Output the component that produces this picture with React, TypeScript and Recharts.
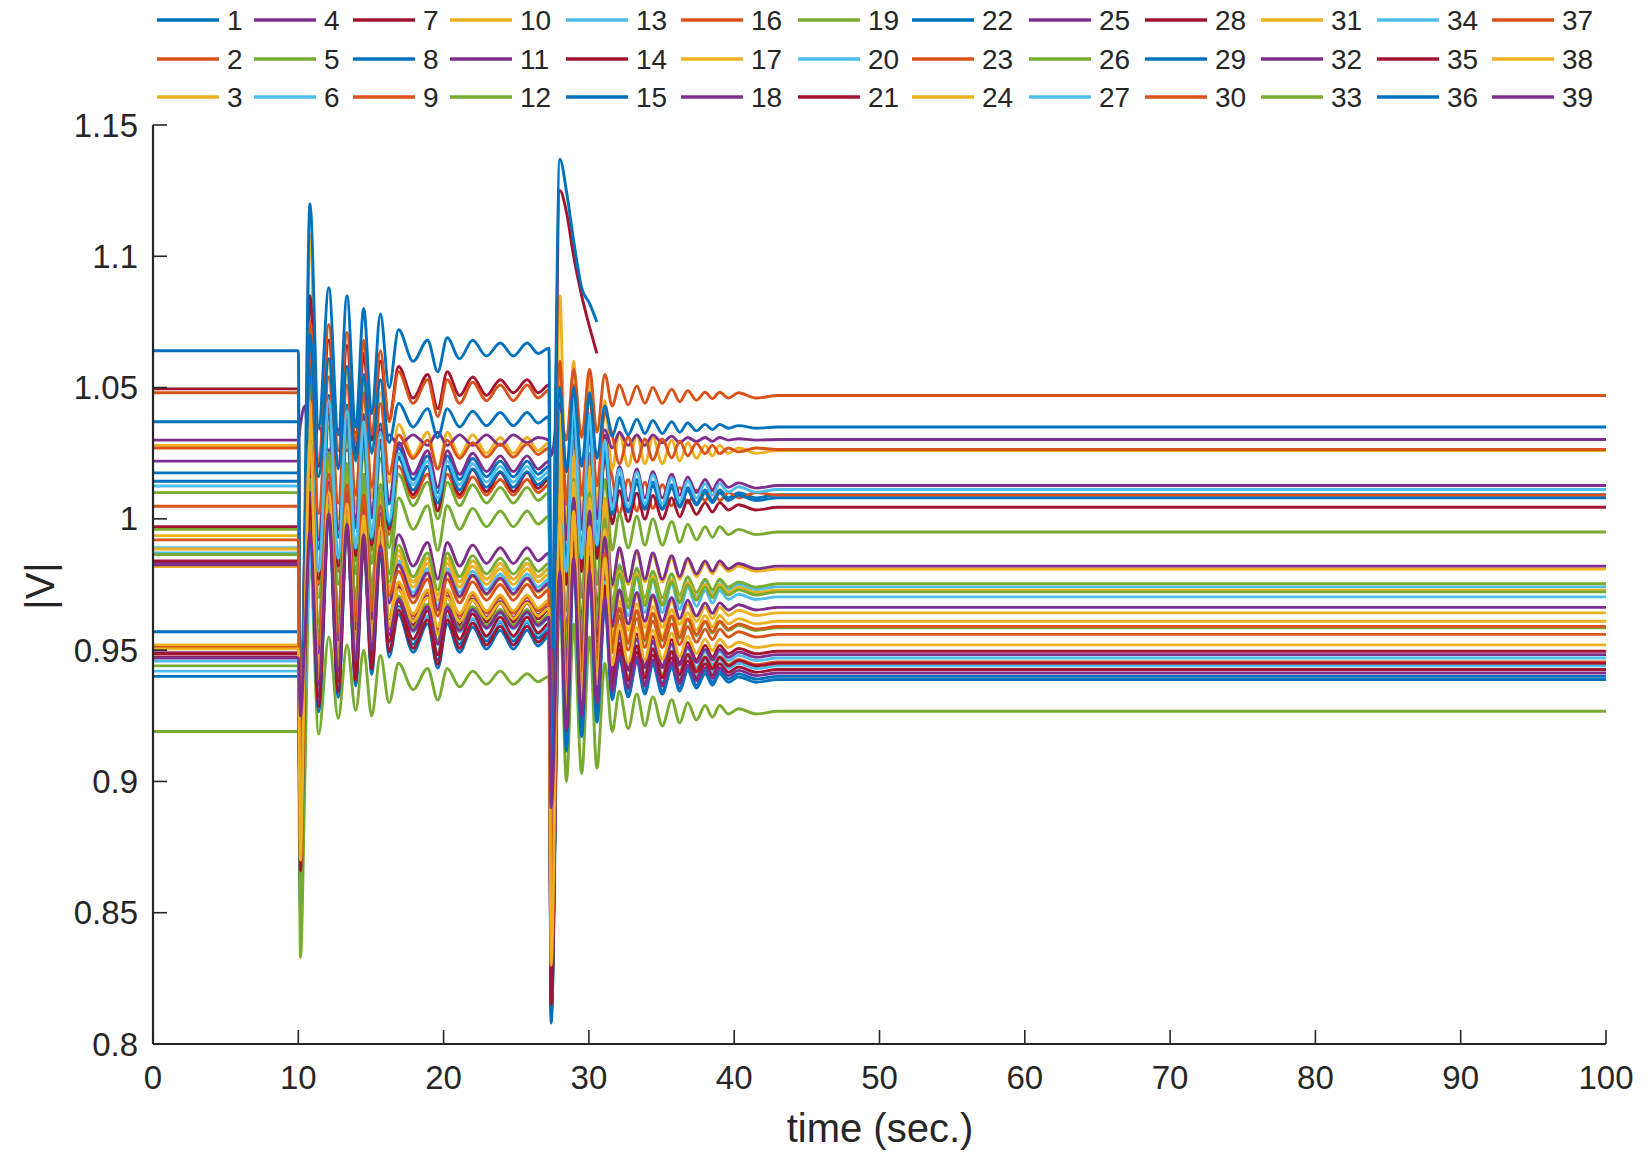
import React from "react";
import { LineChart, Line, XAxis, YAxis } from "recharts";

// sample times (s): pre-fault, first disturbance at 10 s, second at 27.3 s, settling to 47 s
const TIME = [
  0, 10, 10.15, 10.45, 10.8,
  11.4, 12.1, 12.75, 13.35, 13.95, 14.5, 15.05, 15.65, 16.25,
  16.9, 17.9, 18.9, 19.6, 20.25, 21.1, 22.0, 22.95, 23.9, 24.8, 25.75, 26.5, 27.25,
  27.4, 28.0,
  28.45, 28.95, 29.5, 30.05, 30.55, 31.1,
  31.6, 32.1, 32.7, 33.3, 33.85, 34.4, 35.05, 35.7, 36.25, 36.8, 37.4, 38.0, 38.5, 39.0,
  39.6, 40.3, 41.5, 43.0, 45.0, 47.0, 100,
];

// bus voltage magnitudes |V| (p.u.)
const bus1 = [1.0175,1.0175,0.87,0.98,1.06, 0.9885,1.047,0.993,1.0434,0.9966,1.0398,1.0002,1.0362,1.0056, 1.027,1.015,1.024,1.010,1.024,1.015,1.023,1.016,1.022,1.016,1.022,1.017,1.020, 0.85,1.02, 0.9835,1.042,0.988,1.0375,0.9925,1.0285, 1.002,1.016,1.003,1.015,1.004,1.014,1.004,1.013,1.005,1.012,1.006,1.011,1.007,1.011, 1.008,1.010,1.008,1.0092,1.0092,1.0092,1.0092];
const bus2 = [1.0048,1.0048,0.90,0.97,1.04, 0.975,1.040,0.980,1.036,0.984,1.032,0.988,1.028,0.994, 1.020,1.008,1.017,1.003,1.017,1.008,1.016,1.009,1.015,1.009,1.015,1.010,1.013, 0.87,1.00, 0.975,1.040,0.980,1.035,0.985,1.025, 1.016,1.002,1.015,1.003,1.014,1.004,1.013,1.005,1.012,1.006,1.011,1.007,1.011,1.007, 1.010,1.008,1.010,1.009,1.009,1.009,1.009];
const bus3 = [1.028,1.028,0.87,0.99,1.108, 0.995,1.060,1.000,1.056,1.004,1.052,1.008,1.048,1.014, 1.036,1.024,1.033,1.019,1.033,1.024,1.032,1.025,1.031,1.025,1.031,1.026,1.029, 0.83,1.085, 0.995,1.060,1.000,1.055,1.005,1.045, 1.019,1.033,1.020,1.032,1.021,1.031,1.021,1.030,1.022,1.029,1.023,1.028,1.024,1.028, 1.025,1.027,1.025,1.026,1.026,1.026,1.026];
const bus4 = [1.030,1.030,1.036,1.043,1.020, 1.035,1.026,1.034,1.026,1.033,1.027,1.033,1.027,1.032, 1.028,1.032,1.028,1.033,1.028,1.032,1.028,1.032,1.028,1.032,1.029,1.031,1.030, 1.024,1.044, 1.018,1.036,1.022,1.035,1.024,1.034, 1.027,1.033,1.028,1.032,1.028,1.032,1.029,1.0315,1.029,1.031,1.0295,1.031,1.0295,1.031, 1.030,1.0305,1.030,1.0302,1.0302,1.0302,1.0302];
const bus5 = [1.010,1.010,0.91,0.97,1.03, 0.970,1.035,0.975,1.031,0.979,1.027,0.983,1.023,0.989, 1.017,1.005,1.014,1.000,1.014,1.005,1.013,1.006,1.012,1.006,1.012,1.007,1.010, 0.87,0.99, 0.965,1.030,0.970,1.025,0.975,1.015, 0.988,1.002,0.989,1.001,0.990,1.000,0.990,0.999,0.991,0.998,0.992,0.997,0.993,0.997, 0.994,0.996,0.994,0.995,0.995,0.995,0.995];
const bus6 = [0.989,0.989,0.915,0.95,1.0, 0.955,1.020,0.960,1.016,0.964,1.012,0.968,1.008,0.974, 0.988,0.976,0.985,0.971,0.985,0.976,0.984,0.977,0.983,0.977,0.983,0.978,0.981, 0.88,0.99, 0.943,1.021,0.949,1.015,0.955,1.003, 0.9657,0.9825,0.9669,0.9813,0.9681,0.9801,0.9681,0.9789,0.9693,0.9777,0.9705,0.9765,0.9717,0.9765, 0.9731,0.9751,0.9731,0.9741,0.9741,0.9741,0.9741];
const bus7 = [1.0495,1.0495,0.88,0.98,1.085, 1.02,1.068,1.02,1.066,1.025,1.063,1.03,1.06,1.038, 1.058,1.046,1.055,1.042,1.056,1.047,1.054,1.047,1.053,1.048,1.053,1.048,1.051, 0.93,1.125, 1.117,1.100,1.085,1.073,1.063,null, null,null,null,null,null,null,null,null,null,null,null,null,null,null, null,null,null,null,null,null,null];
const bus8 = [0.957,0.957,0.855,0.94,1.0, 0.9295,1.001,0.935,0.9966,0.9394,0.9922,0.9438,0.9878,0.9504, 0.9666,0.9522,0.963,0.9462,0.963,0.9522,0.9618,0.9534,0.9606,0.9534,0.9606,0.9546,0.9582, 0.808,0.98, 0.9135,0.985,0.919,0.9795,0.9245,0.9685, 0.9323,0.9477,0.9334,0.9466,0.9345,0.9455,0.9345,0.9444,0.9356,0.9433,0.9367,0.9422,0.9378,0.9422, 0.939,0.941,0.939,0.940,0.940,0.940,0.940];
const bus9 = [0.9838,0.9838,0.895,0.955,1.02, 0.944,1.009,0.949,1.005,0.953,1.001,0.957,0.997,0.963, 0.975,0.963,0.972,0.958,0.972,0.963,0.971,0.964,0.970,0.964,0.970,0.965,0.968, 0.85,0.995, 0.935,1.000,0.940,0.995,0.945,0.985, 0.949,0.963,0.950,0.962,0.951,0.961,0.951,0.960,0.952,0.959,0.953,0.958,0.954,0.958, 0.955,0.957,0.955,0.956,0.956,0.956,0.956];
const bus10 = [0.9936,0.9936,0.88,0.97,1.05, 0.9515,1.023,0.957,1.0186,0.9614,1.0142,0.9658,1.0098,0.9724, 0.988,0.976,0.985,0.971,0.985,0.976,0.984,0.977,0.983,0.977,0.983,0.978,0.981, 0.84,1.02, 0.948,1.026,0.954,1.020,0.960,1.008, 0.974,0.988,0.975,0.987,0.976,0.986,0.976,0.985,0.977,0.984,0.978,0.983,0.979,0.983, 0.980,0.982,0.980,0.9809,0.9809,0.9809,0.9809];
const bus11 = [1.022,1.022,0.92,0.99,1.04, 0.992,1.044,0.996,1.041,0.999,1.038,1.002,1.034,1.007, 1.029,1.017,1.026,1.012,1.026,1.017,1.025,1.018,1.024,1.018,1.024,1.019,1.022, 0.92,1.03, 0.992,1.044,0.996,1.040,1.000,1.032, 1.006,1.020,1.007,1.019,1.008,1.018,1.008,1.017,1.009,1.016,1.010,1.015,1.011,1.015, 1.012,1.0137,1.0117,1.0127,1.0127,1.0127,1.0127];
const bus12 = [0.919,0.919,0.833,0.90,0.985, 0.918,0.955,0.924,0.952,0.927,0.950,0.925,0.948,0.930, 0.945,0.935,0.943,0.931,0.943,0.936,0.942,0.937,0.942,0.937,0.941,0.938,0.940, 0.83,0.97, 0.900,0.960,0.903,0.955,0.905,0.945, 0.919,0.9344,0.9201,0.9333,0.9212,0.9322,0.9212,0.9311,0.9223,0.93,0.9234,0.9289,0.9245,0.9289, 0.9257,0.9277,0.9257,0.9267,0.9267,0.9267,0.9267];
const bus13 = [0.9458,0.9458,0.91,0.94,0.99, 0.9345,1.006,0.940,1.0016,0.9444,0.9972,0.9488,0.9928,0.9554, 0.969,0.957,0.966,0.952,0.966,0.957,0.965,0.958,0.964,0.958,0.964,0.959,0.962, 0.88,0.975, 0.920,0.998,0.926,0.992,0.932,0.980, 0.9386,0.9554,0.9398,0.9542,0.941,0.953,0.941,0.9518,0.9422,0.9506,0.9434,0.9494,0.9446,0.9494, 0.946,0.948,0.946,0.947,0.947,0.947,0.947];
const bus14 = [0.997,0.997,0.87,0.97,1.045, 0.977,1.042,0.982,1.038,0.986,1.034,0.990,1.030,0.996, 1.0236,1.0092,1.020,1.0032,1.020,1.0092,1.0188,1.0104,1.0176,1.0104,1.0176,1.0116,1.0152, 0.835,1.00, 0.975,1.040,0.980,1.035,0.985,1.025, 0.9981,1.0107,0.999,1.0098,0.9999,1.0089,0.9999,1.008,1.0008,1.0071,1.0017,1.0062,1.0026,1.0062, 1.0034,1.0054,1.0034,1.0044,1.0044,1.0044,1.0044];
const bus15 = [1.0143,1.0143,0.86,0.975,1.055, 0.9805,1.039,0.985,1.0354,0.9886,1.0318,0.9922,1.0282,0.9976, 1.023,1.011,1.020,1.006,1.020,1.011,1.019,1.012,1.018,1.012,1.018,1.013,1.016, 0.84,1.01, 0.9805,1.039,0.985,1.0345,0.9895,1.0255, 1.0017,1.0143,1.0026,1.0134,1.0035,1.0125,1.0035,1.0116,1.0044,1.0107,1.0053,1.0098,1.0062,1.0098, 1.007,1.009,1.007,1.008,1.008,1.008,1.008];
const bus16 = [1.048,1.048,0.90,0.99,1.075, 1.022,1.074,1.026,1.071,1.029,1.068,1.032,1.064,1.037, 1.056,1.044,1.053,1.039,1.053,1.044,1.052,1.045,1.051,1.045,1.051,1.046,1.049, 0.92,1.04, 1.030,1.057,1.031,1.057,1.033,1.055, 1.043,1.051,1.0434,1.0506,1.044,1.050,1.044,1.0494,1.0446,1.0488,1.0452,1.0482,1.0458,1.0482, 1.046,1.048,1.046,1.047,1.047,1.047,1.047];
const bus17 = [0.952,0.952,0.87,0.96,1.04, 0.9475,1.019,0.953,1.0146,0.9574,1.0102,0.9618,1.0058,0.9684, 0.982,0.970,0.979,0.965,0.979,0.970,0.978,0.971,0.977,0.971,0.977,0.972,0.975, 0.83,1.04, 0.933,1.011,0.939,1.005,0.945,0.993, 0.9533,0.9687,0.9544,0.9676,0.9555,0.9665,0.9555,0.9654,0.9566,0.9643,0.9577,0.9632,0.9588,0.9632, 0.960,0.962,0.960,0.961,0.961,0.961,0.961];
const bus18 = [0.983,0.983,0.93,0.97,1.02, 0.960,1.025,0.965,1.021,0.969,1.017,0.973,1.013,0.979, 0.994,0.982,0.991,0.977,0.991,0.982,0.990,0.983,0.989,0.983,0.989,0.984,0.987, 0.90,1.0, 0.955,1.020,0.960,1.015,0.965,1.005, 0.975,0.989,0.976,0.988,0.977,0.987,0.977,0.986,0.978,0.985,0.979,0.984,0.980,0.984, 0.981,0.983,0.981,0.982,0.982,0.982,0.982];
const bus19 = [0.996,0.996,0.90,0.965,1.025, 0.960,1.025,0.965,1.021,0.969,1.017,0.973,1.013,0.979, 1.008,0.996,1.005,0.988,1.005,0.996,1.004,0.997,1.003,0.997,1.003,0.998,1.001, 0.86,0.99, 0.950,1.015,0.955,1.010,0.960,1.000, 0.968,0.982,0.969,0.981,0.970,0.980,0.970,0.979,0.971,0.978,0.972,0.977,0.973,0.977, 0.974,0.976,0.974,0.9753,0.9753,0.9753,0.9753];
const bus20 = [0.987,0.987,0.92,0.95,0.995, 0.951,1.016,0.956,1.012,0.960,1.008,0.964,1.004,0.970, 0.984,0.972,0.981,0.967,0.981,0.972,0.980,0.973,0.979,0.973,0.979,0.974,0.977, 0.90,0.98, 0.940,1.018,0.946,1.012,0.952,1.000, 0.9619,0.9787,0.9631,0.9775,0.9643,0.9763,0.9643,0.9751,0.9655,0.9739,0.9667,0.9727,0.9679,0.9727, 0.9693,0.9713,0.9693,0.9703,0.9703,0.9703,0.9703];
const bus21 = [0.984,0.984,0.865,0.95,1.02, 0.9375,1.009,0.943,1.0046,0.9474,1.0002,0.9518,0.9958,0.9584, 0.9739,0.9595,0.9703,0.9535,0.9703,0.9595,0.9691,0.9607,0.9679,0.9607,0.9679,0.9619,0.9655, 0.815,0.99, 0.9235,0.995,0.929,0.9895,0.9345,0.9785, 0.9419,0.9573,0.943,0.9562,0.9441,0.9551,0.9441,0.954,0.9452,0.9529,0.9463,0.9518,0.9474,0.9518, 0.9486,0.9506,0.9486,0.9496,0.9496,0.9496,0.9496];
const bus22 = [1.064,1.064,0.89,1.0,1.12, 1.035,1.088,1.032,1.085,1.035,1.08,1.04,1.078,1.05, 1.072,1.06,1.068,1.056,1.069,1.061,1.068,1.062,1.067,1.062,1.067,1.063,1.065, 0.95,1.137, 1.125,1.106,1.088,1.082,1.075,null, null,null,null,null,null,null,null,null,null,null,null,null,null,null, null,null,null,null,null,null,null];
const bus23 = [0.951,0.951,0.89,0.955,1.01, 0.939,1.004,0.944,1.000,0.948,0.996,0.952,0.992,0.958, 0.970,0.958,0.967,0.953,0.967,0.958,0.966,0.959,0.965,0.959,0.965,0.960,0.963, 0.85,0.99, 0.925,0.990,0.930,0.985,0.935,0.975, 0.9385,0.9525,0.9395,0.9515,0.9405,0.9505,0.9405,0.9495,0.9415,0.9485,0.9425,0.9475,0.9435,0.9475, 0.9445,0.9465,0.9445,0.9455,0.9455,0.9455,0.9455];
const bus24 = [0.9885,0.9885,0.875,0.97,1.045, 0.9495,1.021,0.955,1.0166,0.9594,1.0122,0.9638,1.0078,0.9704, 0.986,0.974,0.983,0.969,0.983,0.974,0.982,0.975,0.981,0.975,0.981,0.976,0.979, 0.835,1.03, 0.946,1.024,0.952,1.018,0.958,1.006, 0.966,0.980,0.967,0.979,0.968,0.978,0.968,0.977,0.969,0.976,0.970,0.975,0.971,0.975, 0.972,0.974,0.972,0.9728,0.9728,0.9728,0.9728];
const bus25 = [0.949,0.949,0.93,0.96,1.0, 0.943,1.008,0.948,1.004,0.952,1.000,0.956,0.996,0.962, 0.9735,0.9615,0.9705,0.9565,0.9705,0.9615,0.9695,0.9625,0.9685,0.9625,0.9685,0.9635,0.9665, 0.90,0.985, 0.927,0.992,0.932,0.987,0.937,0.977, 0.9413,0.9553,0.9423,0.9543,0.9433,0.9533,0.9433,0.9523,0.9443,0.9513,0.9453,0.9503,0.9463,0.9503, 0.9473,0.9493,0.9473,0.9483,0.9483,0.9483,0.9483];
const bus26 = [0.9864,0.9864,0.90,0.96,1.015, 0.957,1.022,0.962,1.018,0.966,1.014,0.970,1.010,0.976, 0.990,0.978,0.987,0.973,0.987,0.978,0.986,0.979,0.985,0.979,0.985,0.980,0.983, 0.86,0.985, 0.950,1.015,0.955,1.010,0.960,1.000, 0.965,0.979,0.966,0.978,0.967,0.977,0.967,0.976,0.968,0.975,0.969,0.974,0.970,0.974, 0.971,0.973,0.971,0.9722,0.9722,0.9722,0.9722];
const bus27 = [0.942,0.942,0.915,0.935,0.985, 0.9315,1.003,0.937,0.9986,0.9414,0.9942,0.9458,0.9898,0.9524, 0.966,0.954,0.963,0.949,0.963,0.954,0.962,0.955,0.961,0.955,0.961,0.956,0.959, 0.87,0.975, 0.916,0.994,0.922,0.988,0.928,0.976, 0.9356,0.9524,0.9368,0.9512,0.938,0.950,0.938,0.9488,0.9392,0.9476,0.9404,0.9464,0.9416,0.9464, 0.943,0.945,0.943,0.944,0.944,0.944,0.944];
const bus28 = [0.9474,0.9474,0.862,0.945,1.01, 0.9325,1.004,0.938,0.9996,0.9424,0.9952,0.9468,0.9908,0.9534, 0.9686,0.9542,0.965,0.9482,0.965,0.9542,0.9638,0.9554,0.9626,0.9554,0.9626,0.9566,0.9602, 0.812,0.985, 0.9165,0.988,0.922,0.9825,0.9275,0.9715, 0.9349,0.9503,0.936,0.9492,0.9371,0.9481,0.9371,0.947,0.9382,0.9459,0.9393,0.9448,0.9404,0.9448, 0.9416,0.9436,0.9416,0.9426,0.9426,0.9426,0.9426];
const bus29 = [0.940,0.940,0.853,0.94,0.995, 0.9265,0.998,0.932,0.9936,0.9364,0.9892,0.9408,0.9848,0.9474, 0.9636,0.9492,0.960,0.9432,0.960,0.9492,0.9588,0.9504,0.9576,0.9504,0.9576,0.9516,0.9552, 0.81,0.975, 0.9115,0.983,0.917,0.9775,0.9225,0.9665, 0.9311,0.9465,0.9322,0.9454,0.9333,0.9443,0.9333,0.9432,0.9344,0.9421,0.9355,0.941,0.9366,0.941, 0.9378,0.9398,0.9378,0.9388,0.9388,0.9388,0.9388];
const bus30 = [1.027,1.027,0.89,0.985,1.065, 1.002,1.054,1.006,1.051,1.009,1.048,1.012,1.044,1.017, 1.032,1.023,1.030,1.019,1.030,1.023,1.029,1.0235,1.0285,1.0235,1.0285,1.0245,1.027, 0.86,1.06, 1.0055,1.051,1.009,1.0475,1.0125,1.0405, 1.032,1.021,1.0312,1.0216,1.0304,1.0224,1.0304,1.0232,1.0296,1.024,1.0288,1.0248,1.028,1.0248, 1.027,1.0255,1.027,1.0264,1.0264,1.0264,1.0264];
const bus31 = [0.9818,0.9818,0.88,0.96,1.035, 0.9415,1.013,0.947,1.0086,0.9514,1.0042,0.9558,0.9998,0.9624, 0.976,0.964,0.973,0.959,0.973,0.964,0.972,0.965,0.971,0.965,0.971,0.966,0.969, 0.84,1.01, 0.936,1.014,0.942,1.008,0.948,0.996, 0.9565,0.9719,0.9576,0.9708,0.9587,0.9697,0.9587,0.9686,0.9598,0.9675,0.9609,0.9664,0.962,0.9664, 0.9632,0.9652,0.9632,0.9642,0.9642,0.9642,0.9642];
const bus32 = [0.9825,0.9825,0.93,0.965,1.01, 0.949,1.014,0.954,1.010,0.958,1.006,0.962,1.002,0.968, 0.9825,0.9705,0.9795,0.9655,0.9795,0.9705,0.9785,0.9715,0.9775,0.9715,0.9775,0.9725,0.9755, 0.91,0.995, 0.943,1.008,0.948,1.003,0.953,0.993, 0.959,0.973,0.960,0.972,0.961,0.971,0.961,0.970,0.962,0.969,0.963,0.968,0.964,0.968, 0.9653,0.9673,0.9653,0.9663,0.9663,0.9663,0.9663];
const bus33 = [0.944,0.944,0.85,0.94,1.0, 0.940,1.005,0.945,1.001,0.949,0.997,0.953,0.993,0.959, 0.9705,0.9585,0.9675,0.9535,0.9675,0.9585,0.9665,0.9595,0.9655,0.9595,0.9655,0.9605,0.9635, 0.83,0.98, 0.935,1.000,0.940,0.995,0.945,0.985, 0.9515,0.9655,0.9525,0.9645,0.9535,0.9635,0.9535,0.9625,0.9545,0.9615,0.9555,0.9605,0.9565,0.9605, 0.9575,0.9595,0.9575,0.9585,0.9585,0.9585,0.9585];
const bus34 = [1.0125,1.0125,0.92,0.97,1.03, 0.980,1.045,0.985,1.041,0.989,1.037,0.993,1.033,0.999, 1.025,1.013,1.022,1.008,1.022,1.013,1.021,1.014,1.020,1.014,1.020,1.015,1.018, 0.88,1.00, 0.980,1.045,0.985,1.040,0.990,1.030, 1.0035,1.019,1.0046,1.0178,1.0057,1.0167,1.0057,1.0156,1.0068,1.0145,1.0079,1.0134,1.009,1.0134, 1.0102,1.0122,1.0102,1.0112,1.0112,1.0112,1.0112];
const bus35 = [0.9487,0.9487,0.866,0.945,1.005, 0.9285,1.000,0.934,0.9956,0.9384,0.9912,0.9428,0.9868,0.9494, 0.9651,0.9507,0.9615,0.9447,0.9615,0.9507,0.9603,0.9519,0.9591,0.9519,0.9591,0.9531,0.9567, 0.815,0.985, 0.9195,0.991,0.925,0.9855,0.9305,0.9745, 0.9373,0.9527,0.9384,0.9516,0.9395,0.9505,0.9395,0.9494,0.9406,0.9483,0.9417,0.9472,0.9428,0.9472, 0.944,0.946,0.944,0.945,0.945,0.945,0.945];
const bus36 = [1.037,1.037,0.90,0.985,1.07, 1.016,1.061,1.019,1.058,1.022,1.055,1.025,1.053,1.029, 1.044,1.035,1.042,1.031,1.042,1.035,1.041,1.0355,1.0405,1.0355,1.0405,1.0365,1.039, 0.90,1.05, 1.018,1.050,1.020,1.048,1.023,1.043, 1.0315,1.0385,1.032,1.038,1.0325,1.0375,1.0325,1.037,1.033,1.0365,1.0335,1.036,1.034,1.036, 1.0345,1.0355,1.0345,1.035,1.035,1.035,1.035];
const bus37 = [0.992,0.992,0.89,0.96,1.03, 0.952,1.017,0.957,1.013,0.961,1.009,0.965,1.005,0.971, 0.980,0.968,0.977,0.963,0.977,0.968,0.976,0.969,0.975,0.969,0.975,0.970,0.973, 0.86,1.0, 0.937,1.002,0.942,0.997,0.947,0.987, 0.952,0.966,0.953,0.965,0.954,0.964,0.954,0.963,0.955,0.962,0.956,0.961,0.957,0.961, 0.958,0.960,0.958,0.959,0.959,0.959,0.959];
const bus38 = [0.9505,0.9505,0.87,0.955,1.03, 0.9385,1.010,0.944,1.0056,0.9484,1.0012,0.9528,0.9968,0.9594, 0.973,0.961,0.970,0.956,0.970,0.961,0.969,0.962,0.968,0.962,0.968,0.963,0.966, 0.83,1.0, 0.925,1.003,0.931,0.997,0.937,0.985, 0.9443,0.9597,0.9454,0.9586,0.9465,0.9575,0.9465,0.9564,0.9476,0.9553,0.9487,0.9542,0.9498,0.9542, 0.951,0.953,0.951,0.952,0.952,0.952,0.952];
const bus39 = [0.947,0.947,0.925,0.955,0.995, 0.937,1.002,0.942,0.998,0.946,0.994,0.950,0.990,0.956, 0.9695,0.9575,0.9665,0.9525,0.9665,0.9575,0.9655,0.9585,0.9645,0.9585,0.9645,0.9595,0.9625, 0.89,0.98, 0.920,0.985,0.925,0.980,0.930,0.970, 0.9343,0.9483,0.9353,0.9473,0.9363,0.9463,0.9363,0.9453,0.9373,0.9443,0.9383,0.9433,0.9393,0.9433, 0.9403,0.9423,0.9403,0.9413,0.9413,0.9413,0.9413];

const BUSES = [
  bus1, bus2, bus3, bus4, bus5, bus6, bus7, bus8, bus9, bus10,
  bus11, bus12, bus13, bus14, bus15, bus16, bus17, bus18, bus19, bus20,
  bus21, bus22, bus23, bus24, bus25, bus26, bus27, bus28, bus29, bus30,
  bus31, bus32, bus33, bus34, bus35, bus36, bus37, bus38, bus39,
];

const X_TICKS = [0, 10, 20, 30, 40, 50, 60, 70, 80, 90, 100];
const Y_TICKS = [0.8, 0.85, 0.9, 0.95, 1, 1.05, 1.1, 1.15];

// matlab default line order
const COLORS = ["#0072BD", "#D95319", "#EDB120", "#7E2F8E", "#77AC30", "#4DBEEE", "#A2142F"];

const rows = TIME.map((t, i) => {
  const r: Record<string, number | null> = { t };
  BUSES.forEach((b, k) => {
    r[`v${k + 1}`] = b[i];
  });
  return r;
});

const AX = "#262626";
const FONT = "'Liberation Sans', Arial, Helvetica, sans-serif";
const LEFT = 153;
const BOTTOM = 1044;
const TICK_LEN = 14;
const LEGEND_X = [157, 254, 353, 450, 566, 681, 798, 912, 1029, 1145, 1261, 1377, 1492];
const LEGEND_Y = [20, 59, 97];

const fmt = (v: number) => String(+v.toFixed(2));

function YTick(props: any) {
  const { y, payload } = props;
  return (
    <g>
      <line x1={LEFT} x2={LEFT + TICK_LEN} y1={y} y2={y} stroke={AX} strokeWidth={1.6} />
      <text x={LEFT - 15} y={y} textAnchor="end" dominantBaseline="central" fontSize={33} fill={AX} fontFamily={FONT}>
        {fmt(payload.value)}
      </text>
    </g>
  );
}

function XTick(props: any) {
  const { x, payload } = props;
  return (
    <g>
      <line x1={x} x2={x} y1={BOTTOM} y2={BOTTOM - TICK_LEN} stroke={AX} strokeWidth={1.6} />
      <text x={x} y={BOTTOM + 33} textAnchor="middle" dominantBaseline="central" fontSize={33} fill={AX} fontFamily={FONT}>
        {payload.value}
      </text>
    </g>
  );
}

export default function App() {
  return (
    <div style={{ position: "absolute", left: 0, top: 0, width: 1652, height: 1152, background: "#fff" }}>
      <LineChart width={1652} height={1152} data={rows} margin={{ top: 125, right: 46, bottom: 78, left: 93 }}>
        <XAxis
          dataKey="t" type="number" domain={[0, 100]} ticks={X_TICKS} interval={0} height={30}
          allowDataOverflow tickLine={false} axisLine={{ stroke: AX, strokeWidth: 2.2 }}
          tick={(p: any) => <XTick {...p} />}
        />
        <YAxis
          type="number" domain={[0.8, 1.15]} ticks={Y_TICKS} interval={0} width={60}
          allowDataOverflow tickLine={false} axisLine={{ stroke: AX, strokeWidth: 2.2 }}
          tick={(p: any) => <YTick {...p} />}
        />
        {BUSES.map((_, k) => (
          <Line
            key={k}
            dataKey={`v${k + 1}`}
            type="monotone"
            stroke={COLORS[k % 7]}
            strokeWidth={2.9}
            dot={false}
            activeDot={false}
            isAnimationActive={false}
          />
        ))}
      </LineChart>
      <svg width={1652} height={1152} style={{ position: "absolute", left: 0, top: 0, pointerEvents: "none" }}>
        {BUSES.map((_, k) => {
          const x0 = LEGEND_X[Math.floor(k / 3)];
          const y = LEGEND_Y[k % 3];
          return (
            <g key={k}>
              <line x1={x0} x2={x0 + 62} y1={y} y2={y} stroke={COLORS[k % 7]} strokeWidth={3.5} />
              <text x={x0 + 70} y={y} dominantBaseline="central" fontSize={28} fill={AX} fontFamily={FONT}>
                {k + 1}
              </text>
            </g>
          );
        })}
        <text x={880} y={1128} textAnchor="middle" dominantBaseline="central" fontSize={40} fill={AX} fontFamily={FONT}>
          time (sec.)
        </text>
        <text
          x={40} y={586} textAnchor="middle" dominantBaseline="central" fontSize={40} fill={AX} fontFamily={FONT}
          transform="rotate(-90 40 586)"
        >
          |V|
        </text>
      </svg>
    </div>
  );
}
